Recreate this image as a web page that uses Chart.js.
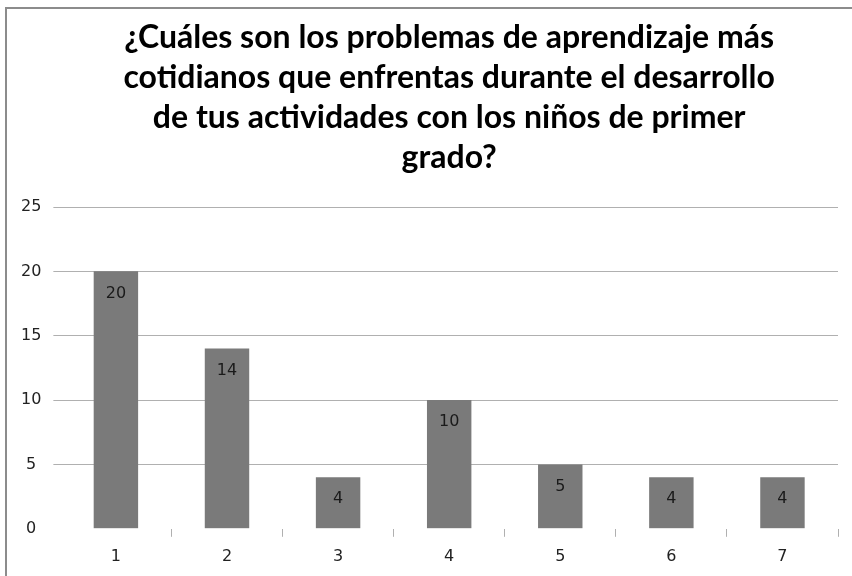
<!DOCTYPE html>
<html>
<head>
<meta charset="utf-8">
<script src="https://cdn.jsdelivr.net/npm/chart.js@4/dist/chart.umd.min.js"></script>
<style>
  html, body { margin: 0; padding: 0; background: #fff; }
  #wrap { position: relative; width: 852px; height: 576px; }
  #frame { position: absolute; left: 5px; top: 7px; right: -4px; bottom: -4px; border: 2px solid #8c8c8c; }
  canvas { position: absolute; left: 0; top: 0; }
</style>
</head>
<body>
<div id="wrap">
  <div id="frame"></div>
  <canvas id="chart" width="852" height="576"></canvas>
</div>
<script>
const titleLines = [
  '¿Cuáles son los problemas de aprendizaje más',
  'cotidianos que enfrentas durante el desarrollo',
  'de tus actividades con los niños de primer',
  'grado?'
];
const categories = ['1', '2', '3', '4', '5', '6', '7'];
const values = [20, 14, 4, 10, 5, 4, 4];
const yTicks = [0, 5, 10, 15, 20, 25];

// labels drawn inside the top of each bar
const barLabels = {
  id: 'barLabels',
  afterDatasetsDraw(chart) {
    const ctx = chart.ctx;
    const meta = chart.getDatasetMeta(0);
    ctx.save();
    ctx.font = '16px "DejaVu Sans"';
    ctx.fillStyle = '#1a1a1a';
    ctx.textAlign = 'center';
    ctx.textBaseline = 'middle';
    meta.data.forEach(function(bar, i) {
      ctx.fillText(String(values[i]), bar.x, bar.y + 22);
    });
    ctx.restore();
  }
};

new Chart(document.getElementById('chart'), {
  type: 'bar',
  data: {
    labels: categories,
    datasets: [{
      data: values,
      backgroundColor: '#7a7a7a',
      borderWidth: 0,
      barPercentage: 0.4,
      categoryPercentage: 1
    }]
  },
  options: {
    responsive: false,
    animation: false,
    layout: { padding: { left: 9, right: 14, top: 0, bottom: 0 } },
    plugins: {
      legend: { display: false },
      tooltip: { enabled: false },
      title: {
        display: true,
        fullSize: false,
        text: titleLines,
        color: '#000',
        font: { family: 'Lato', size: 32, weight: 'bold', lineHeight: '40px' },
        padding: { top: 18, bottom: 29 }
      }
    },
    scales: {
      x: {
        border: { display: false },
        grid: {
          drawOnChartArea: false,
          drawTicks: true,
          tickLength: 8,
          offset: true,
          color: function(c) { return c.index === 0 ? 'rgba(0,0,0,0)' : '#b0b0b0'; }
        },
        ticks: { color: '#222', padding: 10, font: { family: 'DejaVu Sans', size: 16 } }
      },
      y: {
        min: 0,
        max: 25,
        border: { display: false },
        afterBuildTicks: function(axis) { axis.ticks = yTicks.map(function(v) { return { value: v }; }); },
        grid: {
          tickLength: 7,
          color: function(c) { return c.tick && c.tick.value === 0 ? 'rgba(0,0,0,0)' : '#b0b0b0'; }
        },
        ticks: { color: '#222', padding: 12, crossAlign: 'center', font: { family: 'DejaVu Sans', size: 16 } }
      }
    }
  },
  plugins: [barLabels]
});
</script>
</body>
</html>
